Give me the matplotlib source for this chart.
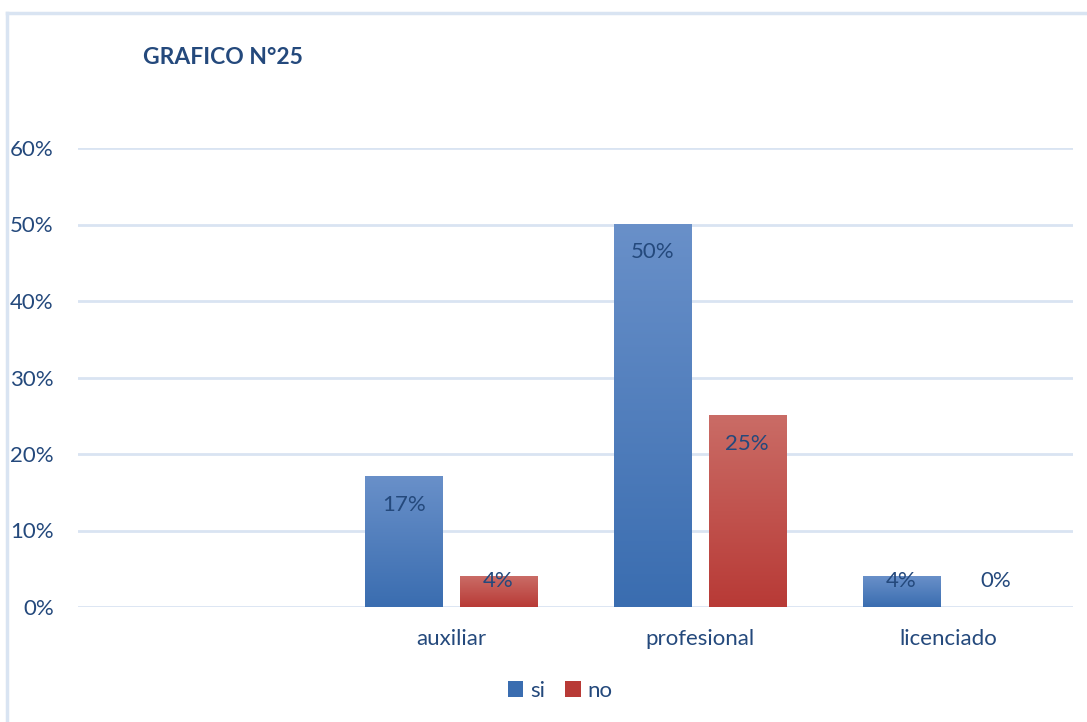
import numpy as np
import matplotlib
matplotlib.use("Agg")
import matplotlib.pyplot as plt
from matplotlib.colors import LinearSegmentedColormap
from matplotlib.patches import Patch
from matplotlib.lines import Line2D

plt.rcParams['font.family'] = ['Lato', 'DejaVu Sans']

categories = ['', 'auxiliar', 'profesional', 'licenciado']
si_values = [np.nan, 17, 50, 4]
no_values = [np.nan, 4, 25, 0]
series_names = ['si', 'no']
yticks = [0, 10, 20, 30, 40, 50, 60]
title = 'GRAFICO N°25'

text_color = '#24497c'
grid_color = '#d9e4f2'
blue_top, blue_bot = '#6990c9', '#3a6db0'
red_top, red_bot = '#ca6c66', '#b83a36'

W, H = 1087, 722
fig = plt.figure(figsize=(W / 100, H / 100), dpi=100)

# chart frame
fig.add_artist(Line2D([7 / W, 7 / W], [0, 1 - 13 / H], color=grid_color, lw=2.5))
fig.add_artist(Line2D([7 / W, 1], [1 - 13 / H, 1 - 13 / H], color=grid_color, lw=2.5))

ax = fig.add_axes([78 / W, 1 - 607 / H, (1073 - 78) / W, (607 - 148) / H])
x = np.arange(len(categories))
bw = 0.31
off = 0.19

b1 = ax.bar(x - off, si_values, bw, color='none', label=series_names[0])
b2 = ax.bar(x + off, no_values, bw, color='none', label=series_names[1])

grad = np.linspace(0, 1, 256).reshape(-1, 1)
cm_blue = LinearSegmentedColormap.from_list('b', [blue_bot, blue_top])
cm_red = LinearSegmentedColormap.from_list('r', [red_bot, red_top])
for bars, cm in ((b1, cm_blue), (b2, cm_red)):
    for r in bars:
        h = r.get_height()
        if not np.isfinite(h) or h <= 0:
            continue
        x0 = r.get_x()
        ax.imshow(grad, extent=[x0, x0 + r.get_width(), 0, h], origin='lower',
                  cmap=cm, aspect='auto', zorder=3)

# data labels
for bars in (b1, b2):
    for r in bars:
        h = r.get_height()
        if not np.isfinite(h):
            continue
        ypos = max(h - 3.66, 3.4)
        ax.text(r.get_x() + r.get_width() / 2, ypos, f'{h:.0f}%', ha='center', va='center',
                fontsize=16, color=text_color, zorder=5)

ax.set_xlim(-0.5, len(categories) - 0.5)
ax.set_ylim(0, 60)
ax.set_yticks(yticks)
ax.set_yticklabels([f'{v}%' for v in yticks])
ax.set_xticks(x)
ax.set_xticklabels(categories)
ax.tick_params(axis='both', length=0, labelsize=16, colors=text_color)
ax.tick_params(axis='x', pad=16)
ax.yaxis.set_tick_params(pad=17.5)
for s in ax.spines.values():
    s.set_visible(False)
ax.set_axisbelow(True)
ax.grid(axis='y', color=grid_color, lw=2)

fig.text(143 / W, 1 - 57 / H, title, fontsize=16.5, fontweight='bold', color=text_color,
         ha='left', va='center')

handles = [Patch(facecolor=blue_bot, label=series_names[0]),
           Patch(facecolor=red_bot, label=series_names[1])]
fig.legend(handles=handles, loc='center', bbox_to_anchor=(560 / W, 1 - 691 / H), ncol=2,
           frameon=False, fontsize=16, labelcolor=text_color, handlelength=0.7,
           handleheight=0.7, handletextpad=0.3, columnspacing=0.9)

fig.savefig('out.png', dpi=100)
